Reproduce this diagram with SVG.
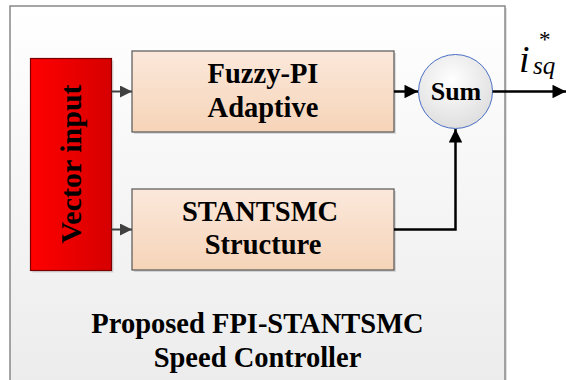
<svg xmlns="http://www.w3.org/2000/svg" width="566" height="380" viewBox="0 0 566 380">
<defs>
<linearGradient id="gBg" x1="0" y1="0" x2="0" y2="1"><stop offset="0" stop-color="#ffffff"/><stop offset="1" stop-color="#ececec"/></linearGradient>
<linearGradient id="gRed" x1="0" y1="0" x2="1" y2="0"><stop offset="0" stop-color="#ff0000"/><stop offset="1" stop-color="#d60000"/></linearGradient>
<linearGradient id="gPeach" x1="0" y1="0" x2="0" y2="1"><stop offset="0" stop-color="#fbe8db"/><stop offset="1" stop-color="#f6d4b8"/></linearGradient>
<radialGradient id="gSum" cx="0.45" cy="0.35" r="0.7"><stop offset="0" stop-color="#ffffff"/><stop offset="1" stop-color="#dcdcdc"/></radialGradient>
<marker id="aBlack" viewBox="0 0 10 10" refX="10" refY="5" markerWidth="6" markerHeight="5.4" markerUnits="strokeWidth" orient="auto"><path d="M0,0 L10,5 L0,10 Z" fill="#000"/></marker>
<marker id="aGray" viewBox="0 0 10 10" refX="10" refY="5" markerWidth="6" markerHeight="6" markerUnits="strokeWidth" orient="auto"><path d="M0,0 L10,5 L0,10 Z" fill="#404040"/></marker>
</defs>
<style>
.t{font-family:"Liberation Serif","Times New Roman",serif;font-weight:bold;fill:#000;text-anchor:middle}
.box{fill:url(#gPeach);stroke:#555;stroke-width:1.2}
.shadow{fill:#000;opacity:0.12}
.blk{fill:none;stroke:#000;stroke-width:2.5}
.gry{fill:none;stroke:#404040;stroke-width:2}
</style>
<g id="container">
<rect x="12" y="8" width="495" height="380" class="shadow"/>
<rect x="10" y="6" width="495" height="380" fill="url(#gBg)" stroke="#888" stroke-width="1.5"/>
<text class="t" x="257.5" y="333" font-size="28.5">Proposed FPI-STANTSMC</text>
<text class="t" x="257.5" y="366.5" font-size="28.5">Speed Controller</text>
</g>
<g id="vector-input">
<rect x="32.5" y="60.5" width="81" height="212" class="shadow"/>
<rect x="30.5" y="58.5" width="81" height="212" fill="url(#gRed)" stroke="#7a0000" stroke-width="1.2"/>
<text class="t" font-size="30" transform="translate(81,164) rotate(-90)">Vector input</text>
</g>
<g id="fuzzy-pi">
<rect x="134" y="53" width="262" height="81" class="shadow"/>
<rect x="132" y="51" width="262" height="81" class="box"/>
<text class="t" x="263" y="83.3" font-size="28.5">Fuzzy-PI</text>
<text class="t" x="263" y="116.7" font-size="28.5">Adaptive</text>
</g>
<g id="stantsmc">
<rect x="134" y="191" width="262" height="81" class="shadow"/>
<rect x="132" y="189" width="262" height="81" class="box"/>
<text class="t" x="260" y="220.7" font-size="28.5">STANTSMC</text>
<text class="t" x="263" y="253.5" font-size="28.5">Structure</text>
</g>
<g id="sum">
<circle cx="455.5" cy="91.5" r="37" fill="url(#gSum)" stroke="#4a6fc4" stroke-width="1"/>
<text class="t" x="456" y="99.5" font-size="26">Sum</text>
</g>
<g id="connectors">
<line x1="111.5" y1="91.5" x2="132" y2="91.5" class="gry" marker-end="url(#aGray)"/>
<line x1="111.5" y1="229.5" x2="132" y2="229.5" class="gry" marker-end="url(#aGray)"/>
<line x1="394" y1="91.5" x2="418" y2="91.5" class="blk" marker-end="url(#aBlack)"/>
<polyline points="394,229.5 455.5,229.5 455.5,129" class="blk" marker-end="url(#aBlack)"/>
<line x1="492.5" y1="91.5" x2="566" y2="91.5" class="blk" marker-end="url(#aBlack)"/>
</g>
<g id="output-label" font-family="'Liberation Serif','Times New Roman',serif" font-style="italic" fill="#000">
<text x="519" y="72" font-size="38">i</text>
<text x="533" y="74" font-size="25">sq</text>
<text x="539" y="47" font-size="23" font-style="normal">*</text>
</g>
</svg>
